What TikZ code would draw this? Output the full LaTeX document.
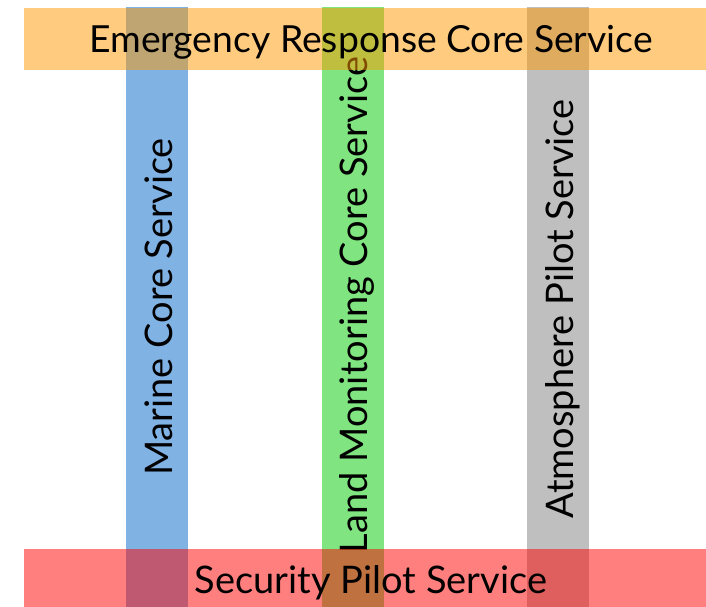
\documentclass[tikz,border=0pt]{standalone}
\usepackage{fontspec}
\setmainfont{Lato}
\definecolor{vblue}{RGB}{128,178,228}
\definecolor{vgreen}{RGB}{128,228,128}
\definecolor{vgray}{RGB}{191,191,191}
\definecolor{horange}{RGB}{255,153,0}
\definecolor{hred}{RGB}{255,0,0}
\begin{document}
\begin{tikzpicture}[x=1pt,y=-1pt,
  vbar/.style={rectangle,inner sep=0pt,minimum width=62pt,minimum height=600pt},
  hbar/.style={rectangle,inner sep=0pt,minimum width=682pt,fill opacity=0.5},
  lbl/.style={inner sep=0pt,font=\fontsize{38}{42}\selectfont}]
\useasboundingbox (0,0) rectangle (706,607);
\node[vbar,fill=vblue] (mbar) at (157,307) {};
\node[vbar,fill=vgreen] (lbar) at (353,307) {};
\node[vbar,fill=vgray] (abar) at (558,307) {};
\node[lbl,rotate=90,anchor=base] (mtxt) at (172,307) {Marine Core Service};
\node[lbl,rotate=90,anchor=base] (ltxt) at (367,305) {Land Monitoring Core Service};
\node[lbl,rotate=90,anchor=base] (atxt) at (573,309) {Atmosphere Pilot Service};
\node[hbar,fill=horange,minimum height=62.5pt] (ebar) at (365,39.25) {};
\node[hbar,fill=hred,minimum height=58pt] (sbar) at (365,578) {};
\node[lbl,anchor=base,font=\fontsize{37.3}{41}\selectfont] (etxt) at (371,53) {Emergency Response Core Service};
\node[lbl,anchor=base] (stxt) at (371,593) {Security Pilot Service};
\end{tikzpicture}
\end{document}
